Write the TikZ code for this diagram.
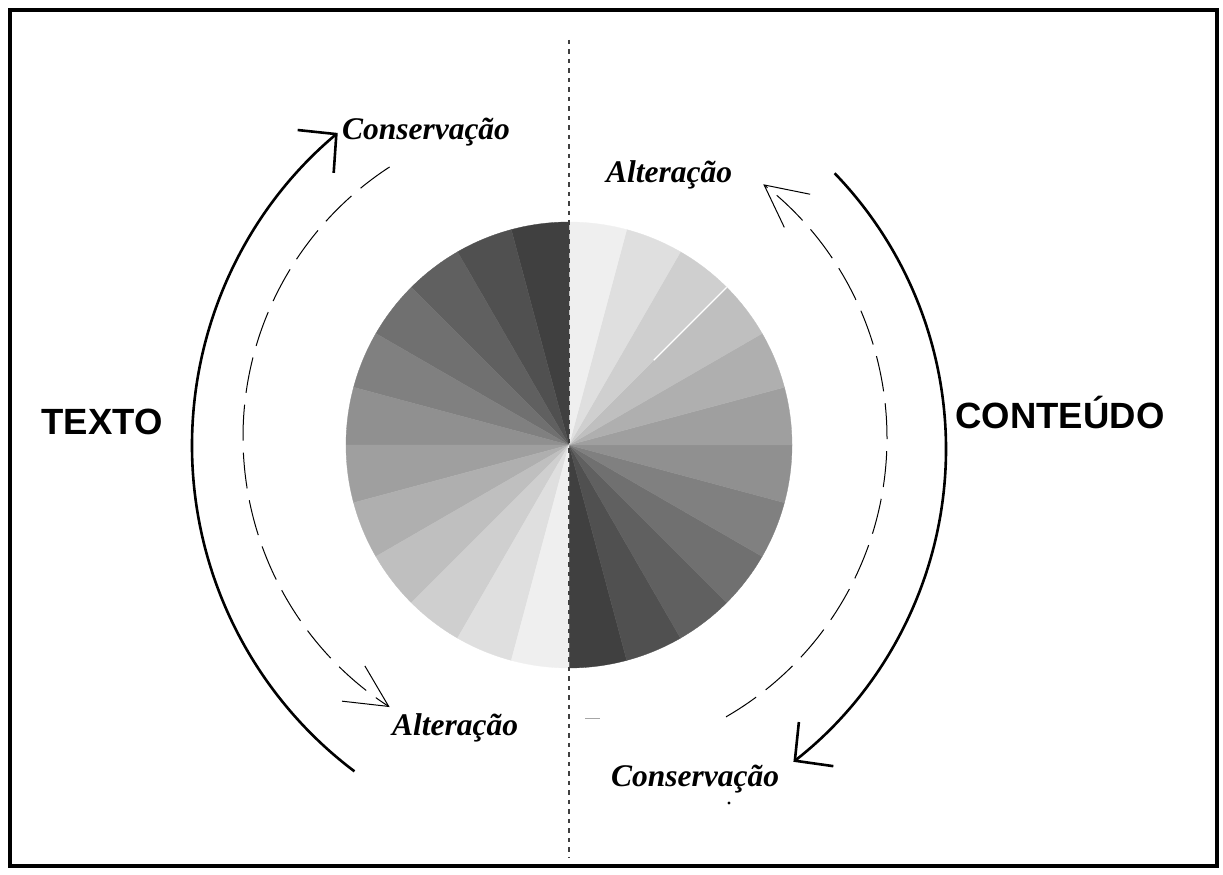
\documentclass[tikz,border=0pt]{standalone}
\usepackage{fontspec}
\setmainfont{Liberation Serif}
\setsansfont{Liberation Sans}
\usetikzlibrary{arrows.meta}
\tikzset{
  frame/.style={line width=4pt},
  axisline/.style={black!75, line width=1.2pt, dash pattern=on 4.5pt off 5pt},
  bigarc/.style={line width=2.6pt, -{Straight Barb[length=27pt,width=56pt,line width=2.6pt]}},
  dasharc/.style={line width=1pt, dash pattern=on 36pt off 12pt, -{Straight Barb[length=42pt,width=42pt,line width=1pt]}},
  lbl/.style={inner sep=0pt, anchor=base, font=\fontsize{31.5}{36}\selectfont\bfseries\itshape},
  side/.style={inner sep=0pt, anchor=base, font=\fontsize{36.5}{42}\selectfont\sffamily\bfseries}
}
\begin{document}
\begin{tikzpicture}[x=1pt,y=1pt]
    \useasboundingbox (0,0) rectangle (1223,875);
    \draw[frame] (10,9) rectangle (1217,865);

    % disco de 24 fatias
    \coordinate (c) at (569,430);
    \foreach \m in {0,...,23} {
      \pgfmathtruncatemacro\k{mod(\m,12)}
      \pgfmathsetmacro\lev{75-6.25*\k}
      \fill[black!\lev, draw=black!\lev, line width=0.3pt] (c) -- ++(-90+15*\m:223)
        arc[start angle=-90+15*\m, end angle=-75+15*\m, radius=223] -- cycle;
    }
    \draw[white, line width=1.2pt] (c) ++(45:120) -- ++(45:103);

    \draw[axisline] (569,835) -- (569,17);

    % setas
    \draw[bigarc] (600,429.5) ++(233:408) arc[start angle=233, end angle=130, radius=408];
    \draw[bigarc] (549,426) ++(44:397) arc[start angle=44, end angle=-52, radius=397];
    \draw[dasharc] (565,438) ++(123:322) arc[start angle=123, end angle=237, radius=322];
    \draw[dasharc] (565,437) ++(-60:322) arc[start angle=-60, end angle=52, radius=322];

    \node[lbl] (consTop) at (426,735) {Conservação};
    \node[lbl] (altTop) at (669,692) {Alteração};
    \node[lbl] (altBot) at (455,139) {Alteração};
    \node[lbl] (consBot) at (695,88) {Conservação};
    \node[side] (texto) at (102,440) {TEXTO};
    \node[side] (conteudo) at (1060,446) {CONTEÚDO};

    \fill (729,72) circle (1.6);
    \draw[black!35, line width=1pt] (585,156) -- (600,156);
\end{tikzpicture}
\end{document}
